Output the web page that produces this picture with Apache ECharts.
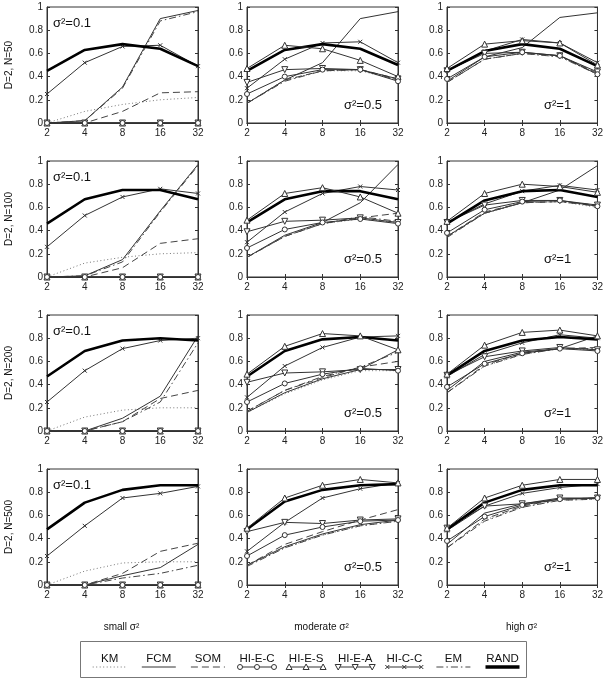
<!DOCTYPE html>
<html><head><meta charset="utf-8">
<script src="https://cdn.jsdelivr.net/npm/echarts@6/dist/echarts.min.js"></script>
<style>html,body{margin:0;padding:0;background:#fff}#c{width:606px;height:681px}</style>
</head><body><div id="c"></div>
<script>
// ---------- data ----------
const xCats = ['2', '4', '8', '16', '32'];
const yTicks = [0, 0.2, 0.4, 0.6, 0.8, 1];
const rowLabels = ['D=2, N=50', 'D=2, N=100', 'D=2, N=200', 'D=2, N=500'];
const sigmaLabels = ['0.1', '0.5', '1'];
const colTitles = ['small σ²', 'moderate σ²', 'high σ²'];
const methods = ['KM', 'FCM', 'SOM', 'HI-E-C', 'HI-E-S', 'HI-E-A', 'HI-C-C', 'EM', 'RAND'];
// panels in row-major order (N=50: σ²=0.1, 0.5, 1; N=100: ...; N=200: ...; N=500: ...)
const KM = [
  [0, 0.10, 0.16, 0.20, 0.22], [0.17, 0.37, 0.45, 0.45, 0.37], [0.35, 0.55, 0.60, 0.57, 0.42],
  [0, 0.12, 0.17, 0.20, 0.21], [0.17, 0.35, 0.46, 0.50, 0.47], [0.35, 0.55, 0.64, 0.65, 0.60],
  [0, 0.12, 0.18, 0.20, 0.20], [0.16, 0.32, 0.44, 0.52, 0.52], [0.33, 0.56, 0.66, 0.71, 0.70],
  [0, 0.12, 0.19, 0.20, 0.20], [0.17, 0.32, 0.43, 0.51, 0.55], [0.32, 0.56, 0.67, 0.73, 0.74]
];
const FCM = [
  [0, 0.02, 0.31, 0.90, 0.97], [0.17, 0.37, 0.52, 0.90, 0.96], [0.36, 0.57, 0.65, 0.91, 0.95],
  [0, 0.01, 0.15, 0.57, 0.97], [0.17, 0.36, 0.47, 0.64, 0.97], [0.35, 0.55, 0.64, 0.75, 0.96],
  [0, 0, 0.11, 0.30, 0.82], [0.16, 0.33, 0.45, 0.53, 0.70], [0.35, 0.60, 0.68, 0.71, 0.82],
  [0, 0, 0.08, 0.15, 0.35], [0.17, 0.33, 0.44, 0.52, 0.56], [0.35, 0.62, 0.70, 0.74, 0.75]
];
const SOM = [
  [0, 0, 0.10, 0.26, 0.27], [0.17, 0.37, 0.45, 0.46, 0.38], [0.35, 0.55, 0.60, 0.58, 0.43],
  [0, 0, 0.08, 0.29, 0.33], [0.17, 0.35, 0.46, 0.51, 0.55], [0.35, 0.56, 0.64, 0.65, 0.62],
  [0, 0, 0.08, 0.28, 0.35], [0.17, 0.35, 0.46, 0.55, 0.60], [0.33, 0.57, 0.67, 0.71, 0.72],
  [0, 0, 0.10, 0.29, 0.36], [0.17, 0.35, 0.46, 0.56, 0.65], [0.32, 0.57, 0.68, 0.74, 0.75]
];
const HIEC = [
  [0, 0, 0, 0, 0], [0.25, 0.40, 0.46, 0.46, 0.36], [0.38, 0.57, 0.61, 0.58, 0.42],
  [0, 0, 0, 0, 0], [0.25, 0.41, 0.47, 0.50, 0.46], [0.38, 0.58, 0.65, 0.66, 0.61],
  [0, 0, 0, 0, 0], [0.25, 0.41, 0.49, 0.54, 0.52], [0.38, 0.58, 0.67, 0.71, 0.69],
  [0, 0, 0, 0, 0], [0.25, 0.43, 0.50, 0.55, 0.56], [0.38, 0.59, 0.69, 0.74, 0.75]
];
const HIES = [
  [0, 0, 0, 0, 0], [0.47, 0.67, 0.64, 0.54, 0.40], [0.47, 0.68, 0.71, 0.69, 0.50],
  [0, 0, 0, 0, 0], [0.49, 0.72, 0.77, 0.69, 0.55], [0.48, 0.72, 0.80, 0.78, 0.73],
  [0, 0, 0, 0, 0], [0.49, 0.73, 0.84, 0.82, 0.70], [0.49, 0.74, 0.85, 0.87, 0.82],
  [0, 0, 0, 0, 0], [0.49, 0.75, 0.86, 0.91, 0.88], [0.49, 0.75, 0.86, 0.91, 0.91]
];
const HIEA = [
  [0, 0, 0, 0, 0], [0.35, 0.46, 0.47, 0.46, 0.38], [0.45, 0.60, 0.61, 0.58, 0.44],
  [0, 0, 0, 0, 0], [0.39, 0.48, 0.49, 0.51, 0.47], [0.47, 0.62, 0.66, 0.66, 0.62],
  [0, 0, 0, 0, 0], [0.42, 0.50, 0.51, 0.53, 0.53], [0.48, 0.64, 0.69, 0.72, 0.70],
  [0, 0, 0, 0, 0], [0.46, 0.54, 0.53, 0.56, 0.57], [0.49, 0.68, 0.70, 0.75, 0.75]
];
const HICC = [
  [0.25, 0.52, 0.66, 0.67, 0.49], [0.30, 0.55, 0.69, 0.70, 0.52], [0.45, 0.62, 0.72, 0.69, 0.52],
  [0.26, 0.53, 0.69, 0.76, 0.72], [0.30, 0.56, 0.72, 0.78, 0.75], [0.47, 0.63, 0.74, 0.79, 0.75],
  [0.25, 0.52, 0.71, 0.78, 0.80], [0.29, 0.56, 0.72, 0.81, 0.82], [0.47, 0.66, 0.76, 0.83, 0.80],
  [0.25, 0.51, 0.75, 0.79, 0.85], [0.29, 0.54, 0.75, 0.83, 0.88], [0.47, 0.68, 0.79, 0.84, 0.87]
];
const EM = [
  [0, 0.02, 0.30, 0.88, 0.96], [0.17, 0.36, 0.45, 0.46, 0.37], [0.35, 0.55, 0.60, 0.57, 0.42],
  [0, 0.01, 0.13, 0.56, 0.96], [0.17, 0.35, 0.46, 0.52, 0.48], [0.34, 0.55, 0.64, 0.65, 0.61],
  [0, 0, 0.08, 0.25, 0.76], [0.17, 0.35, 0.47, 0.55, 0.68], [0.33, 0.56, 0.66, 0.71, 0.71],
  [0, 0, 0.06, 0.10, 0.17], [0.16, 0.32, 0.43, 0.51, 0.55], [0.32, 0.55, 0.67, 0.73, 0.74]
];
const RAND = [
  [0.45, 0.63, 0.68, 0.64, 0.49], [0.45, 0.63, 0.68, 0.64, 0.50], [0.45, 0.62, 0.68, 0.64, 0.49],
  [0.46, 0.67, 0.75, 0.75, 0.67], [0.47, 0.67, 0.74, 0.74, 0.67], [0.46, 0.66, 0.74, 0.75, 0.69],
  [0.47, 0.69, 0.78, 0.80, 0.78], [0.47, 0.69, 0.79, 0.81, 0.78], [0.48, 0.69, 0.78, 0.81, 0.79],
  [0.48, 0.71, 0.82, 0.86, 0.86], [0.48, 0.72, 0.82, 0.86, 0.87], [0.48, 0.71, 0.82, 0.86, 0.86]
];
const methodData = [KM, FCM, SOM, HIEC, HIES, HIEA, HICC, EM, RAND];

// ---------- styles ----------
const FONT = '"Liberation Sans", Arial, Helvetica, sans-serif';
const INV_TRI = 'path://M0,0L10,0L5,9Z';
const CROSS = 'path://M0,0L10,10M0,10L10,0';
const styles = [
  { color: '#777', width: 1, type: [1, 2.5], symbol: 'none', z: 3 },           // KM
  { color: '#333', width: 1, type: 'solid', symbol: 'none', z: 3 },            // FCM
  { color: '#444', width: 1, type: [7, 4], symbol: 'none', z: 3 },             // SOM
  { color: '#333', width: 1, type: 'solid', symbol: 'circle', size: 5, z: 6 }, // HI-E-C
  { color: '#333', width: 1, type: 'solid', symbol: 'triangle', size: 6, z: 5 }, // HI-E-S
  { color: '#333', width: 1, type: 'solid', symbol: INV_TRI, size: 6, z: 4 },  // HI-E-A
  { color: '#333', width: 1, type: 'solid', symbol: CROSS, size: 4, z: 3 },    // HI-C-C
  { color: '#444', width: 1, type: [7, 3, 1.5, 3], symbol: 'none', z: 3 },     // EM
  { color: '#000', width: 2.6, type: 'solid', symbol: 'none', z: 4 }           // RAND
];

const GL = 47, GW = 151, GT = 7, GH = 116, DX = 200, DY = 154;

const grid = [], xAxis = [], yAxis = [], series = [], graphic = [];
for (let r = 0; r < 4; r++) {
  for (let c = 0; c < 3; c++) {
    const p = r * 3 + c;
    const left = GL + DX * c, top = GT + DY * r;
    grid.push({ left: left, top: top, width: GW, height: GH, show: true,
      borderColor: '#333', borderWidth: 1, backgroundColor: 'transparent', containLabel: false });
    const xBase = { type: 'category', data: xCats, boundaryGap: false, gridIndex: p,
      axisLine: { lineStyle: { color: '#333', width: 1 } },
      axisTick: { inside: true, length: 3, lineStyle: { color: '#333' } },
      splitLine: { show: false } };
    xAxis.push(Object.assign({}, xBase, { position: 'bottom',
      axisLabel: { fontFamily: FONT, fontSize: 10, color: '#222', margin: 5 } }));
    xAxis.push(Object.assign({}, xBase, { position: 'top', axisLabel: { show: false } }));
    const yBase = { type: 'value', min: yTicks[0], max: yTicks[yTicks.length - 1], interval: 0.2, gridIndex: p,
      axisLine: { show: true, lineStyle: { color: '#333', width: 1 } },
      axisTick: { show: true, inside: true, length: 3, lineStyle: { color: '#333' } },
      splitLine: { show: false } };
    yAxis.push(Object.assign({}, yBase, { position: 'left',
      axisLabel: { fontFamily: FONT, fontSize: 10, color: '#222', margin: 4 } }));
    yAxis.push(Object.assign({}, yBase, { position: 'right', axisLabel: { show: false } }));

    methods.forEach((m, k) => {
      const st = styles[k];
      series.push({
        type: 'line', name: m, xAxisIndex: 2 * p, yAxisIndex: 2 * p,
        data: methodData[k][p],
        symbol: st.symbol, symbolSize: st.size || 0, showSymbol: st.symbol !== 'none',
        lineStyle: { color: st.color, width: st.width, type: st.type },
        itemStyle: { color: '#fff', borderColor: st.color, borderWidth: 1 },
        emphasis: { disabled: true }, silent: true, z: st.z
      });
    });

    // sigma annotation
    const sig = 'σ²=' + sigmaLabels[c];
    if (c === 0) {
      graphic.push({ type: 'text', left: left + 6, top: top + 10, silent: true,
        style: { text: sig, font: '13px ' + FONT, fill: '#111' } });
    } else {
      graphic.push({ type: 'text', left: left + 97, top: top + 92, silent: true,
        style: { text: sig, font: '13px ' + FONT, fill: '#111' } });
    }
  }
  // row label
  graphic.push({ type: 'text', x: 9, y: GT + DY * r + GH / 2, rotation: Math.PI / 2, silent: true,
    style: { text: rowLabels[r], font: '10px ' + FONT, fill: '#111', align: 'center', verticalAlign: 'middle' } });
}
// column titles
colTitles.forEach((t, c) => {
  graphic.push({ type: 'text', x: GL + DX * c + GW / 2 - 1, y: 627, silent: true,
    style: { text: t, font: '10px ' + FONT, fill: '#111', align: 'center', verticalAlign: 'middle' } });
});

// legend box
graphic.push({ type: 'rect', shape: { x: 80.5, y: 641.5, width: 446, height: 36 }, silent: true,
  style: { fill: '#fff', stroke: '#777', lineWidth: 1 } });
methods.forEach((m, k) => {
  const st = styles[k];
  const cx = 109.7 + 49.1 * k, ly = 667, hw = 17;
  graphic.push({ type: 'text', x: cx, y: 659, silent: true,
    style: { text: m, font: '11.5px ' + FONT, fill: '#111', align: 'center', verticalAlign: 'middle' } });
  graphic.push({ type: 'line', silent: true, shape: { x1: cx - hw, y1: ly, x2: cx + hw, y2: ly },
    style: { stroke: st.color, lineWidth: k === 8 ? 3.5 : st.width, lineDash: Array.isArray(st.type) ? st.type : null } });
  if (st.symbol !== 'none') {
    [cx - hw, cx, cx + hw].forEach(mx => {
      if (st.symbol === 'circle') {
        graphic.push({ type: 'circle', silent: true, shape: { cx: mx, cy: ly, r: 2.5 },
          style: { fill: '#fff', stroke: '#333', lineWidth: 1 } });
      } else if (st.symbol === 'triangle') {
        graphic.push({ type: 'polygon', silent: true, shape: { points: [[mx - 3, ly + 2.5], [mx + 3, ly + 2.5], [mx, ly - 3]] },
          style: { fill: '#fff', stroke: '#333', lineWidth: 1 } });
      } else if (st.symbol === INV_TRI) {
        graphic.push({ type: 'polygon', silent: true, shape: { points: [[mx - 3, ly - 2.5], [mx + 3, ly - 2.5], [mx, ly + 3]] },
          style: { fill: '#fff', stroke: '#333', lineWidth: 1 } });
      } else if (st.symbol === CROSS) {
        graphic.push({ type: 'polyline', silent: true, shape: { points: [[mx - 2, ly - 2], [mx + 2, ly + 2]] }, style: { stroke: '#333', lineWidth: 1 } });
        graphic.push({ type: 'polyline', silent: true, shape: { points: [[mx - 2, ly + 2], [mx + 2, ly - 2]] }, style: { stroke: '#333', lineWidth: 1 } });
      }
    });
  }
});

const chart = echarts.init(document.getElementById('c'), null, { renderer: 'canvas' });
chart.setOption({
  animation: false,
  backgroundColor: '#fff',
  textStyle: { fontFamily: FONT },
  grid: grid, xAxis: xAxis, yAxis: yAxis, series: series, graphic: graphic
});
</script>
</body></html>
